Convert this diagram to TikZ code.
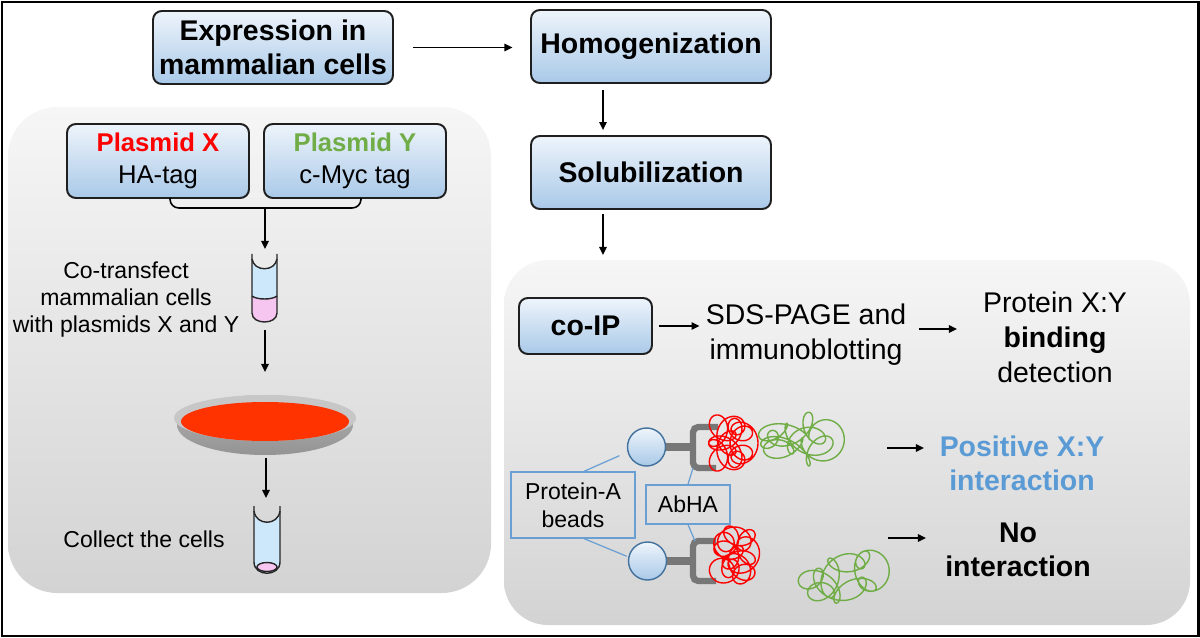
\documentclass[tikz,border=0pt]{standalone}
\usepackage{fontspec}
\setmainfont{Liberation Sans}
\usetikzlibrary{arrows.meta,calc}

\definecolor{boxtop}{HTML}{EEF4FB}
\definecolor{boxbot}{HTML}{A9C9E8}
\definecolor{paneltop}{HTML}{F6F6F6}
\definecolor{panelbot}{HTML}{D3D3D3}
\definecolor{xred}{HTML}{FF0000}
\definecolor{ygreen}{HTML}{70AD47}
\definecolor{posblue}{HTML}{5B9BD5}
\definecolor{labblue}{HTML}{6A9FD4}
\definecolor{beadline}{HTML}{41719C}
\definecolor{abgray}{HTML}{777777}
\definecolor{liqblue}{HTML}{CDE8FB}
\definecolor{liqpink}{HTML}{F6C6F0}
\definecolor{dishred}{HTML}{FF3300}

\tikzset{
  stepbox/.style={draw=black!88, line width=1.1pt, rounded corners=5pt,
    top color=boxtop, bottom color=boxbot, align=center, inner sep=0pt},
  headfont/.style={font=\fontsize{16.2}{19.6}\selectfont\bfseries},
  midfont/.style={font=\fontsize{16.2}{19.9}\selectfont, align=center},
  plasfont/.style={font=\fontsize{14.6}{18.2}\selectfont},
  smallfont/.style={font=\fontsize{13.1}{15.6}\selectfont, align=center},
  labbox/.style={draw=labblue, line width=0.7pt, align=center, inner sep=0pt,
    font=\fontsize{13.1}{16}\selectfont},
  labline/.style={draw=labblue, line width=0.7pt},
  arr/.style={-{Triangle[length=4.6pt,width=4.2pt]}, line width=0.9pt},
  bracket/.style={line width=0.9pt, rounded corners=5pt},
  tubeline/.style={draw=black!85, line width=0.8pt},
  bead/.style={circle, draw=beadline, line width=0.8pt, minimum size=0.76cm,
    inner sep=0pt, top color=boxtop, bottom color=boxbot},
  abstem/.style={draw=abgray, line width=4pt},
  abfork/.style={draw=abgray, line width=3.6pt, rounded corners=3pt},
  redcoil/.style={draw=xred, line width=0.8pt},
  greencoil/.style={draw=ygreen, line width=0.8pt}
}

\begin{document}
\begin{tikzpicture}[x=0.02cm,y=-0.02cm]
\useasboundingbox (0,0) rectangle (1200,638);

% grey panels
\shade[top color=paneltop, bottom color=panelbot, rounded corners=28pt] (8,107) rectangle (491,593);
\shade[top color=paneltop, bottom color=panelbot, rounded corners=25pt] (504,260) rectangle (1190,625);

% main steps
\node[stepbox, headfont, minimum width=4.8cm, minimum height=1.46cm] (expr) at (273,47.5) {Expression in\\mammalian cells};
\node[stepbox, headfont, minimum width=4.8cm, minimum height=1.46cm] (homog) at (651,46.5) {Homogenization};
\node[stepbox, headfont, minimum width=4.8cm, minimum height=1.46cm] (solub) at (651,172.5) {Solubilization};
\node[stepbox, headfont, minimum width=2.66cm, minimum height=1.12cm] (coip) at (585.5,326) {co-IP};

\coordinate (colx) at (603,0);
\coordinate (coipin) at (603,255);
\draw[arr, shorten <=11pt, shorten >=10pt] (expr.east) -- (expr.east -| homog.west);
\draw[arr, shorten <=3.4pt, shorten >=2.8pt] (homog.south -| colx) -- (solub.north -| colx);
\draw[arr, shorten <=2.3pt] (solub.south -| colx) -- (coipin);

% left panel
\node[stepbox, plasfont, minimum width=3.64cm, minimum height=1.48cm] (plasX) at (158,161) {\textcolor{xred}{\bfseries Plasmid X}\\HA-tag};
\node[stepbox, plasfont, minimum width=3.64cm, minimum height=1.48cm] (plasY) at (355,161) {\textcolor{ygreen}{\bfseries Plasmid Y}\\c-Myc tag};

\coordinate (brl) at (170,198);
\coordinate (brr) at (361,198);
\coordinate (brm) at (265,208);
\coordinate (tube1in) at (265,249);
\coordinate (tube1out) at (265,330);
\coordinate (dishin) at (265,372);
\coordinate (dishout) at (266,458);
\coordinate (tube2in) at (266,498);
\draw[bracket] (brl) |- (brm) -| (brr);
\draw[arr] (brm) -- (tube1in);
\draw[arr] (tube1out) -- (dishin);
\draw[arr] (dishout) -- (tube2in);

% tube with cells and plasmids
\fill[liqpink] (252,296) .. controls (257,300) and (272,300) .. (277,296) -- (277,313)
  .. controls (277,325) and (252,325) .. (252,313) -- cycle;
\fill[liqblue] (252,259) .. controls (254,272) and (275,272) .. (277,259) -- (277,296)
  .. controls (272,300) and (257,300) .. (252,296) -- cycle;
\draw[tubeline] (252,296) .. controls (257,300) and (272,300) .. (277,296);
\draw[tubeline] (252,259) .. controls (254,272) and (275,272) .. (277,259);
\draw[tubeline] (252,254) -- (252,313) .. controls (252,325) and (277,325) .. (277,313) -- (277,254);

% culture dish
\shade[top color=black!30, bottom color=black!42] (265,425) ellipse[x radius=88, y radius=30];
\fill[black!22] (265,418) ellipse[x radius=91, y radius=23];
\fill[dishred] (265,421.5) ellipse[x radius=84, y radius=19.5];

% collected cells
\fill[liqblue] (254,511) .. controls (256,526) and (278,526) .. (280,511) -- (280,562)
  .. controls (280,577) and (254,577) .. (254,562) -- cycle;
\draw[tubeline, fill=liqpink] (267,567) ellipse[x radius=10, y radius=4.5];
\draw[tubeline] (254,511) .. controls (256,526) and (278,526) .. (280,511);
\draw[tubeline] (254,506) -- (254,562) .. controls (254,577) and (280,577) .. (280,562) -- (280,506);

\node[smallfont] (cotrans) at (126,299.5) {Co-transfect\\mammalian cells\\with plasmids X and Y};
\node[smallfont] (collect) at (144,539.5) {Collect the cells};

% right panel
\node[midfont] (sds) at (806,335) {SDS-PAGE and\\immunoblotting};
\node[midfont] (detect) at (1055,337) {Protein X:Y\\\textbf{binding}\\detection};
\coordinate (detin) at (957,329);
\draw[arr, shorten <=3.4pt] (coip.east) -- (coip.east -| sds.west);
\draw[arr, shorten <=3.7pt] (sds.east |- detin) -- (detin);

\node[bead] (bead1) at (646.5,447) {};
\node[bead] (bead2) at (647.5,561) {};
\coordinate (fork1) at (693,447);
\coordinate (fork2) at (693,561);
\coordinate (fork1b) at (693,468);
\coordinate (fork2t) at (695,541);
\draw[abstem] (bead1.east) -- (fork1);
\draw[abfork] (718,427) -- (693,427) -- (693,468) -- (716,468);
\draw[abstem] (bead2.east) -- (fork2);
\draw[abfork] (716,541) -- (693,541) -- (693,581) -- (716,581);

\draw[redcoil, shift={(731,443)}] plot[domain=0:360, samples=400, smooth]
  ({13*cos(2*\x)+11*cos(11*\x)+3*cos(5*\x)}, {17*sin(3*\x)+11*sin(11*\x)+3*sin(4*\x)});
\draw[redcoil, shift={(735,555)}] plot[domain=0:360, samples=400, smooth]
  ({12*cos(3*\x+30)+11*cos(12*\x)+3*cos(4*\x)}, {18*sin(2*\x)+11*sin(12*\x)+3*sin(5*\x)});
\draw[greencoil, shift={(797,440)}] plot[domain=0:360, samples=400, smooth]
  ({27*cos(3*\x)+11*cos(10*\x)+6*cos(\x)+5*cos(4*\x+50)}, {11*sin(2*\x)+11*sin(10*\x)+3*sin(5*\x)+4*sin(7*\x+20)});
\draw[greencoil, shift={(843,578)}, rotate=15] plot[domain=0:360, samples=400, smooth]
  ({30*cos(2*\x)+12*cos(9*\x)+6*cos(\x+30)}, {14*sin(3*\x)+12*sin(9*\x)+4*sin(\x)});

\node[labbox, minimum width=2.48cm, minimum height=1.32cm] (prota) at (573,505) {Protein-A\\beads};
\node[labbox, minimum width=1.68cm, minimum height=0.78cm] (abha) at (688,504.5) {AbHA};
\draw[labline, shorten >=5pt] (prota.72) -- (bead1.195);
\draw[labline, shorten >=1pt] (prota.-72) -- (bead2.168);
\draw[labline] (abha.north) -- (fork1b);
\draw[labline] (abha.south) -- (fork2t);

\node[headfont, align=center, text=posblue] (pos) at (1022,463.5) {Positive X:Y\\interaction};
\node[headfont, align=center] (noint) at (1018,550) {No\\interaction};
\coordinate (posa) at (887,448);
\coordinate (posb) at (924,448);
\coordinate (noa) at (888,538);
\coordinate (nob) at (926,538);
\draw[arr] (posa) -- (posb);
\draw[arr] (noa) -- (nob);

% frame
\draw[line width=1.7pt] (2,2) rectangle (1198,636);
\end{tikzpicture}
\end{document}
